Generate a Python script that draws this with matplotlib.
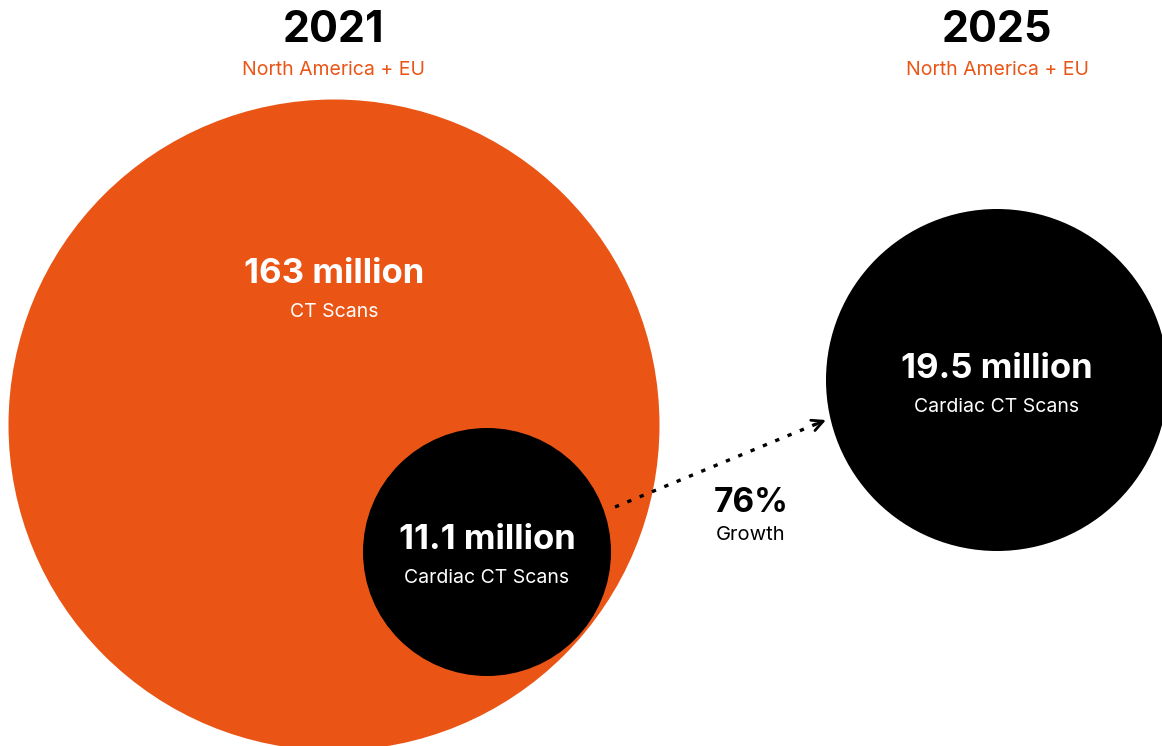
import matplotlib.pyplot as plt
from matplotlib.patches import Circle

# data
years = ["2021", "2025"]
region = "North America + EU"
total_scans_2021 = 163      # million CT scans
cardiac_scans = [11.1, 19.5]  # million cardiac CT scans, 2021 and 2025
growth_pct = 76

ORANGE = "#EA5516"
FONT = ["Inter", "DejaVu Sans"]

fig = plt.figure(figsize=(11.62, 7.46), dpi=100)
ax = fig.add_axes([0, 0, 1, 1])
ax.set_xlim(0, 1162)
ax.set_ylim(746, 0)
ax.set_aspect("equal")
ax.axis("off")

# circles (pixel layout)
ax.add_patch(Circle((334, 425), 325.5, color=ORANGE, lw=0))
ax.add_patch(Circle((487, 552), 124, color="black", lw=0))
ax.add_patch(Circle((997, 380), 171, color="black", lw=0))

# headers
for x, yr in zip([334, 997], years):
    ax.text(x, 31, yr, ha="center", va="center", fontsize=31, fontweight="bold",
            color="black", family=FONT)
    ax.text(x, 70, region, ha="center", va="center", fontsize=14,
            color=ORANGE, family=FONT)

# circle labels
ax.text(334, 274, f"{total_scans_2021} million", ha="center", va="center",
        fontsize=25, fontweight="bold", color="white", family=FONT)
ax.text(334, 312, "CT Scans", ha="center", va="center", fontsize=14,
        color="white", family=FONT)

for (x, y), val in zip([(487, 540), (997, 369)], cardiac_scans):
    ax.text(x, y, f"{val} million", ha="center", va="center",
            fontsize=25, fontweight="bold", color="white", family=FONT)
    ax.text(x, y + 38, "Cardiac CT Scans", ha="center", va="center",
            fontsize=14, color="white", family=FONT)

# growth arrow: dotted shaft + open head
start, tip = (615, 507), (826, 420)
ax.plot([start[0], tip[0] - 4], [start[1], tip[1] + 1.6], color="black",
        lw=2.4, linestyle=(0, (1.3, 2.7)), dash_capstyle="butt")
ax.annotate("", xy=tip, xytext=(tip[0] - 10, tip[1] + 4.1),
            arrowprops=dict(arrowstyle="->", lw=2.0, color="black",
                            mutation_scale=20, shrinkA=0, shrinkB=0))
ax.text(751, 503, f"{growth_pct}%", ha="center", va="center", fontsize=24,
        fontweight="bold", color="black", family=FONT)
ax.text(751, 535, "Growth", ha="center", va="center", fontsize=14.5,
        color="black", family=FONT)

fig.savefig("out.png", dpi=100, facecolor="white")
